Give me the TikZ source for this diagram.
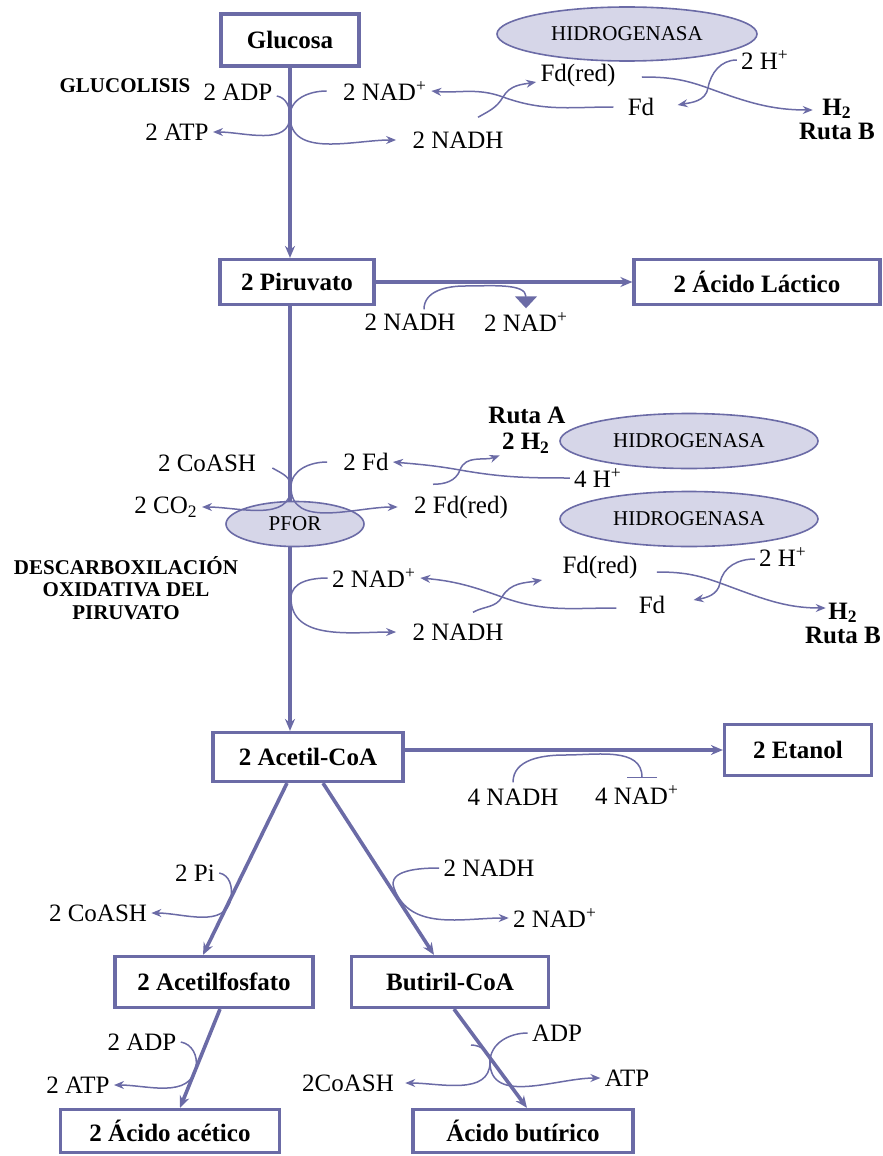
\documentclass[tikz,border=0pt]{standalone}
\usepackage{fontspec}
\setmainfont{Liberation Serif}
\usepackage{tikz}
\usetikzlibrary{arrows.meta,shapes.geometric}
\definecolor{route}{HTML}{6B6BA6}
\definecolor{enzyme}{HTML}{D6D6E8}

\begin{document}
\begin{tikzpicture}[x=0.5pt,y=-0.5pt,
  every node/.style={font=\fontsize{12.5}{14}\selectfont,inner sep=2pt},
  metab/.style={draw=route,line width=1.6pt,fill=white,font=\fontsize{12.5}{14}\selectfont\bfseries,inner sep=0pt},
  enz/.style={ellipse,draw=route,line width=0.8pt,fill=enzyme,font=\fontsize{10.5}{12}\selectfont,inner sep=0pt},
  stage/.style={font=\fontsize{10.5}{11.25}\selectfont\bfseries,align=center},
  ruta/.style={font=\fontsize{12.5}{12}\selectfont\bfseries,inner sep=1pt,align=center},
  flow/.style={route,line width=1.8pt,-{Stealth[length=6pt,width=5pt]}},
  side/.style={route,line width=0.75pt,-{Stealth[length=5pt,width=4pt]}}]
  \useasboundingbox (0,0) rectangle (883,1156);

  \node[metab,minimum width=69pt,minimum height=26pt] (glucosa) at (290,40) {Glucosa};
  \node[metab,minimum width=77pt,minimum height=22.5pt] (piruvato) at (297,282) {2 Piruvato};
  \node[metab,minimum width=123pt,minimum height=22.5pt] (lactico) at (757,282) {2 Ácido Láctico};
  \node[metab,minimum width=95pt,minimum height=24.5pt] (acetilcoa) at (308,757) {2 Acetil-CoA};
  \node[metab,minimum width=73.5pt,minimum height=25.5pt] (etanol) at (798,750) {2 Etanol};
  \node[metab,minimum width=99pt,minimum height=25.5pt] (acetilfos) at (214,982) {2 Acetilfosfato};
  \node[metab,minimum width=98.5pt,minimum height=25.5pt] (butirilcoa) at (450,982) {Butiril-CoA};
  \node[metab,minimum width=109.5pt,minimum height=21.5pt] (acetico) at (170,1131) {2 Ácido acético};
  \node[metab,minimum width=110pt,minimum height=21.5pt] (butirico) at (523,1131) {Ácido butírico};

  \node[enz,minimum width=130pt,minimum height=27pt] (hidro1) at (627,34) {HIDROGENASA};
  \node[enz,minimum width=129pt,minimum height=27.5pt] (hidro2) at (689,441) {HIDROGENASA};
  \node[enz,minimum width=129pt,minimum height=27.5pt] (hidro3) at (689,519) {HIDROGENASA};
  \node[enz,minimum width=69pt,minimum height=22.5pt] (pfor) at (295,524) {PFOR};

  \node[stage] (glucolisis) at (125,86) {GLUCOLISIS};
  \node[stage] (descarbox) at (126,588) {DESCARBOXILACIÓN\\OXIDATIVA DEL\\PIRUVATO};

  \node (adp1) at (238,92) {2 ADP};
  \node (atp1) at (177,132) {2 ATP};
  \node (nad1) at (385,91) {2 NAD\textsuperscript{+}};
  \node (nadh1) at (458,140) {2 NADH};
  \node (fdred1) at (578,75) {Fd(red)};
  \node (fd1) at (641,107) {Fd};
  \node (hp1) at (765,60) {2 H\textsuperscript{+}};
  \node[ruta] (h2b) at (837,119) {H\textsubscript{2}\\Ruta B};

  \node (nadh3) at (410,322) {2 NADH};
  \node (nad3) at (526,322) {2 NAD\textsuperscript{+}};

  \node[ruta] (rutaA) at (527,415) {Ruta A};
  \node[ruta] (h2a) at (526,443) {2 H\textsubscript{2}};
  \node (hp4) at (598,478) {4 H\textsuperscript{+}};
  \node (coash1) at (207,463) {2 CoASH};
  \node (co2) at (166,507) {2 CO\textsubscript{2}};
  \node (fd2) at (366,462) {2 Fd};
  \node (fdred2) at (461,507) {2 Fd(red)};

  \node (nad2) at (374,578) {2 NAD\textsuperscript{+}};
  \node (nadh2) at (458,632) {2 NADH};
  \node (fdred3) at (600,567) {Fd(red)};
  \node (fd3) at (652,605) {Fd};
  \node (hp2) at (783,557) {2 H\textsuperscript{+}};
  \node[ruta] (h2c) at (843,623) {H\textsubscript{2}\\Ruta B};

  \node (nadh4) at (513,797) {4 NADH};
  \node (nad4) at (637,795) {4 NAD\textsuperscript{+}};

  \node (pi) at (195,873) {2 Pi};
  \node (coash2) at (98,913) {2 CoASH};
  \node (nadh5) at (489,868) {2 NADH};
  \node (nad5) at (555,918) {2 NAD\textsuperscript{+}};
  \node (adp2) at (142,1042) {2 ADP};
  \node (atp2) at (78,1085) {2 ATP};
  \node (coash3) at (348,1083) {2CoASH};
  \node (adp3) at (557,1033) {ADP};
  \node (atp3) at (627,1078) {ATP};

  \draw[flow] (glucosa.south) -- (glucosa.south |- piruvato.north);
  \draw[flow,-] (piruvato.south -| glucosa.south) -- (pfor.north -| glucosa.south);
  \draw[flow] (pfor.south -| glucosa.south) -- (acetilcoa.north -| glucosa.south);
  \draw[flow] (piruvato.east) -- (lactico.west);
  \draw[flow] (acetilcoa.east |- etanol.west) -- (etanol.west);
  \draw[flow] ([xshift=-10.5pt]acetilcoa.south) -- ([xshift=-5.5pt]acetilfos.north);
  \draw[flow] ([xshift=7.5pt]acetilcoa.south) -- ([xshift=-8pt]butirilcoa.north);
  \draw[flow] ([xshift=3pt]acetilfos.south) -- ([xshift=5pt]acetico.north);
  \draw[flow] ([xshift=2pt]butirilcoa.south) -- ([xshift=2pt]butirico.north);

  \coordinate (xglu) at (290,116);
  \draw[side] ([yshift=-2pt]adp1.east) to[out=-10,in=90] (xglu) to[out=-90,in=0] (atp1.east);
  \draw[side] ([xshift=-6pt]nad1.west) to[out=180,in=90] (xglu) to[out=-90,in=180] ([xshift=-6pt]nadh1.west);
  \coordinate (xfd1) at (503,97);
  \draw[side] ([xshift=-5pt]fd1.west) to[out=180,in=-20] (xfd1) to[out=160,in=-5] (nad1.east);
  \draw[side] ([xshift=10pt,yshift=5pt]nadh1.north) to[out=30,in=-120] (xfd1) to[out=60,in=190] ([yshift=-3.5pt]fdred1.west);
  \coordinate (xh1) at (708,88);
  \draw[side] ([xshift=11pt,yshift=-1pt]fdred1.east) to[out=0,in=160] (xh1) to[out=-20,in=180] ([xshift=8pt,yshift=4.5pt]h2b.west);
  \draw[side] (hp1.west) to[out=180,in=80] (xh1) to[out=-100,in=10] ([xshift=9.5pt,yshift=1pt]fd1.east);

  \coordinate (xlac) at (465,286);
  \draw[route,line width=0.75pt,-{Triangle[width=11pt,length=6pt]}] ([xshift=7pt]nadh3.north) to[out=90,in=180] (xlac) to[out=0,in=90] (nad3.north);

  \coordinate (xpfor) at (291,487);
  \draw[side] ([xshift=6pt,yshift=-2.5pt]coash1.east) to[out=-30,in=90] (xpfor) to[out=-90,in=0] (co2.east);
  \draw[side] ([xshift=-6pt]fd2.west) to[out=180,in=90] (xpfor) to[out=-90,in=180] ([xshift=-6pt]fdred2.west);
  \coordinate (xh2) at (460,470);
  \draw[side] (hp4.west) to[out=180,in=-10] (xh2) to[out=170,in=-5] (fd2.east);
  \draw[side] ([xshift=-14pt,yshift=3.5pt]fdred2.north) to[out=0,in=-110] (xh2) to[out=70,in=200] (h2a.south west);

  \coordinate (xnad) at (291,598);
  \draw[side] (nad2.west) to[out=180,in=90] (xnad) to[out=-90,in=180] ([xshift=-6pt]nadh2.west);
  \coordinate (xfd3) at (502,597);
  \draw[side] ([xshift=-9pt,yshift=-1.5pt]fd3.west) to[out=180,in=-20] (xfd3) to[out=160,in=-5] (nad2.east);
  \draw[side] ([xshift=7.5pt,yshift=3.5pt]nadh2.north) to[out=30,in=-120] (xfd3) to[out=60,in=190] ([xshift=-8pt,yshift=-6.5pt]fdred3.west);
  \coordinate (xh3) at (720,583);
  \draw[side] ([xshift=7.5pt,yshift=-2.5pt]fdred3.east) to[out=0,in=160] (xh3) to[out=-20,in=180] ([xshift=11.5pt,yshift=7.5pt]h2c.west);
  \draw[side] ([yshift=-1pt]hp2.west) to[out=180,in=80] (xh3) to[out=-100,in=10] ([xshift=12pt,yshift=2.5pt]fd3.east);

  \coordinate (xeta) at (565,755);
  \draw[route,line width=0.75pt,-{Bar[width=15pt]}] ([yshift=1pt]nadh4.north) to[out=90,in=180] (xeta) to[out=0,in=90] ([xshift=2.5pt,yshift=1.5pt]nad4.north);

  \coordinate (xpi) at (231,898);
  \draw[side] (pi.east) to[out=-10,in=80] (xpi) to[out=-100,in=0] (coash2.east);
  \coordinate (xbu) at (394,888);
  \draw[side] (nadh5.west) to[out=180,in=110] (xbu) to[out=-70,in=180] (nad5.west);
  \coordinate (xadp) at (196,1067);
  \draw[side] (adp2.east) to[out=-10,in=80] (xadp) to[out=-100,in=0] (atp2.east);
  \coordinate (xbut) at (490,1062);
  \coordinate (stub) at (471,1045);
  \draw[side] (adp3.west) to[out=180,in=90] (xbut) to[out=-90,in=0] ([xshift=3.5pt]coash3.east);
  \draw[side] (stub) to[out=0,in=90] (xbut) to[out=-90,in=180] (atp3.west);
\end{tikzpicture}
\end{document}
